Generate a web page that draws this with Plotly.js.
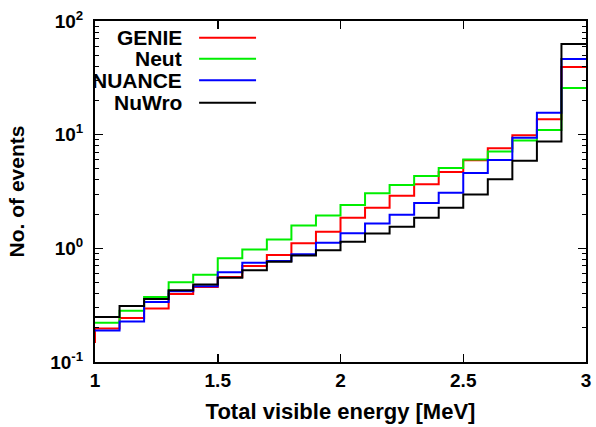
<!DOCTYPE html>
<html>
<head>
<meta charset="utf-8">
<script src="https://cdn.plot.ly/plotly-3.0.1.min.js"></script>
<style>html,body{margin:0;padding:0;background:#fff;}#chart{width:596px;height:427px;}</style>
</head>
<body>
<div id="chart"></div>
<script>
// Bin edges (MeV), 0.1 MeV bins from 1.0 to 3.0
const binEdges = [1.0,1.1,1.2,1.3,1.4,1.5,1.6,1.7,1.8,1.9,2.0,2.1,2.2,2.3,2.4,2.5,2.6,2.7,2.8,2.9,3.0];
// Events per bin
const genie  = [0.197,0.244,0.295,0.397,0.458,0.56,0.70,0.875,1.11,1.40,1.86,2.27,2.90,3.66,4.7,5.95,7.6,9.9,13.7,39.4];
const neut   = [0.221,0.283,0.374,0.503,0.587,0.818,0.975,1.194,1.585,1.94,2.41,3.05,3.60,4.33,5.1,6.06,7.1,8.9,11.0,25.8];
const nuance = [0.189,0.227,0.338,0.42,0.465,0.616,0.745,0.775,0.887,1.12,1.36,1.65,1.97,2.51,3.09,4.6,6.0,9.4,15.6,46.3];
const nuwro  = [0.249,0.311,0.359,0.428,0.48,0.55,0.641,0.763,0.863,0.96,1.14,1.35,1.55,1.86,2.27,2.97,4.06,5.9,8.7,62.8];
const genieLowStart = 0.147; // red line starts below its first bin
const seriesNames = ["GENIE","Neut","NUANCE","NuWro"];
const seriesColors = ["#ff0000","#00ee00","#0000ff","#000000"];
const yTickVals = [0.1,1,10,100];
const yTickText = ["10<sup>-1</sup>","10<sup>0</sup>","10<sup>1</sup>","10<sup>2</sup>"];

const allSeries = [genie, neut, nuance, nuwro];
const traces = allSeries.map((vals, i) => {
  let x = binEdges.slice();
  let y = vals.concat([vals[vals.length-1]]);
  if (i === 0) { x = [binEdges[0]].concat(x); y = [genieLowStart].concat(y); }
  return {
    x: x, y: y, type: 'scatter', mode: 'lines',
    line: {shape: 'hv', color: seriesColors[i], width: 2},
    name: seriesNames[i], showlegend: false, hoverinfo: 'skip'
  };
});

const fontFam = '"Liberation Sans", Arial, Helvetica, sans-serif';
const legX = 0.181, legL0 = 0.212, legL1 = 0.328;
const legY = [0.951, 0.889, 0.826, 0.760];
const annotations = seriesNames.map((n, i) => ({
  xref: 'paper', yref: 'paper', x: legX, y: legY[i], xanchor: 'right', yanchor: 'middle',
  text: '<b>' + n + '</b>', showarrow: false, font: {family: fontFam, size: 21, color: '#000'}
}));
const shapes = seriesNames.map((n, i) => ({
  type: 'line', xref: 'paper', yref: 'paper', x0: legL0, x1: legL1, y0: legY[i], y1: legY[i],
  line: {color: seriesColors[i], width: 2}
}));

const layout = {
  width: 596, height: 427,
  margin: {l: 95, r: 10, t: 21, b: 65},
  paper_bgcolor: '#fff', plot_bgcolor: '#fff',
  font: {family: fontFam, size: 18, color: '#000'},
  showlegend: false,
  xaxis: {
    range: [1, 3], dtick: 0.5, tick0: 1,
    showgrid: false, zeroline: false,
    showline: true, linecolor: '#000', linewidth: 2, mirror: 'ticks',
    ticks: 'inside', ticklen: 8, tickwidth: 1.5, tickcolor: '#000',
    tickfont: {family: fontFam, size: 19, weight: 'bold'},
    title: {text: '<b>Total visible energy [MeV]</b>', font: {family: fontFam, size: 22}, standoff: 14}
  },
  yaxis: {
    type: 'log', range: [-1, 2],
    tickvals: yTickVals, ticktext: yTickText,
    showgrid: false, zeroline: false,
    showline: true, linecolor: '#000', linewidth: 2, mirror: 'ticks',
    ticks: 'inside', ticklen: 8, tickwidth: 1.5, tickcolor: '#000',
    minor: {ticks: 'inside', ticklen: 4, tickwidth: 1, tickcolor: '#000', dtick: 'D1', showgrid: false},
    tickfont: {family: fontFam, size: 19, weight: 'bold'},
    ticklabelstandoff: 6,
    title: {text: '<b>No. of events</b>', font: {family: fontFam, size: 21}, standoff: 20}
  },
  annotations: annotations,
  shapes: shapes
};

Plotly.newPlot('chart', traces, layout, {staticPlot: true, displayModeBar: false});
</script>
</body>
</html>
